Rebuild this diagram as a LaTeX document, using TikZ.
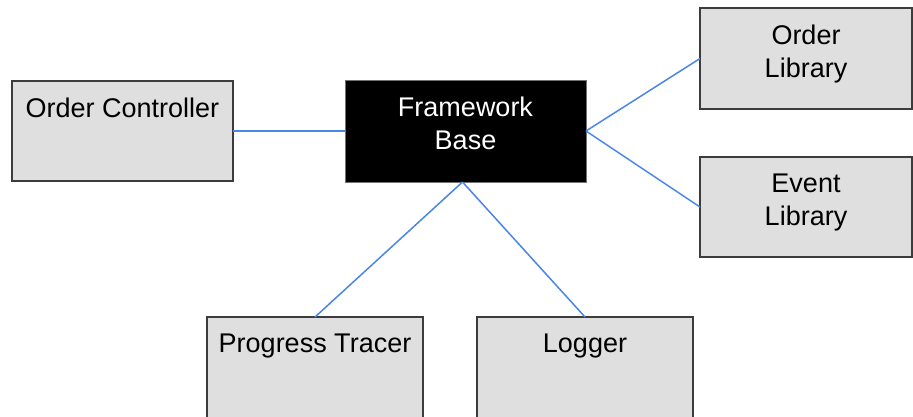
\documentclass[tikz,border=0pt]{standalone}
\usepackage{fontspec}
\setmainfont{Liberation Sans}
\begin{document}
\begin{tikzpicture}[x=1pt,y=-1pt,
  comp/.style={draw=boxedge,fill=boxfill,line width=1.4pt,inner sep=0pt,outer sep=0pt},
  core/.style={draw=black!55,fill=black,line width=0.8pt,inner sep=0pt,outer sep=0pt},
  lbl/.style={anchor=north,align=center,inner sep=0pt,font=\fontsize{27}{33}\selectfont},
  link/.style={draw=linkblue,line width=1.5pt}]
\definecolor{boxfill}{HTML}{DFDFDF}
\definecolor{boxedge}{HTML}{3C3C3C}
\definecolor{linkblue}{HTML}{4A86E8}
\useasboundingbox (0,0) rectangle (913,416);
\clip (0,0) rectangle (913,416);

% component boxes
\node[comp,minimum width=221pt,minimum height=100pt] (oc) at (122.5,131) {};
\node[core,minimum width=241pt,minimum height=102pt] (fb) at (465.5,131) {};
\node[comp,minimum width=212pt,minimum height=101pt] (ol) at (806,58.5) {};
\node[comp,minimum width=212pt,minimum height=100pt] (el) at (806,207) {};
\node[comp,minimum width=216pt,minimum height=120pt] (pt) at (315,377) {};
\node[comp,minimum width=216pt,minimum height=120pt] (lg) at (585,377) {};

% box titles, hung a fixed distance below each box's top edge
\node[lbl] (ocT) at ([yshift=-16.5pt]oc.north) {Order Controller};
\node[lbl,text=white] (fbT) at ([yshift=-16.5pt]fb.north) {Framework\\Base};
\node[lbl] (olT) at ([yshift=-16.5pt]ol.north) {Order\\Library};
\node[lbl] (elT) at ([yshift=-16.5pt]el.north) {Event\\Library};
\node[lbl] (ptT) at ([yshift=-16.5pt]pt.north) {Progress Tracer};
\node[lbl] (lgT) at ([yshift=-16.5pt]lg.north) {Logger};

% connectors
\coordinate (fbS) at ([xshift=-3pt]fb.south);
\draw[link] (oc.east) -- (fb.west);
\draw[link] (fb.east) -- (ol.west);
\draw[link] (fb.east) -- (el.west);
\draw[link] (fbS) -- (pt.north);
\draw[link] (fbS) -- (lg.north);
\end{tikzpicture}
\end{document}
